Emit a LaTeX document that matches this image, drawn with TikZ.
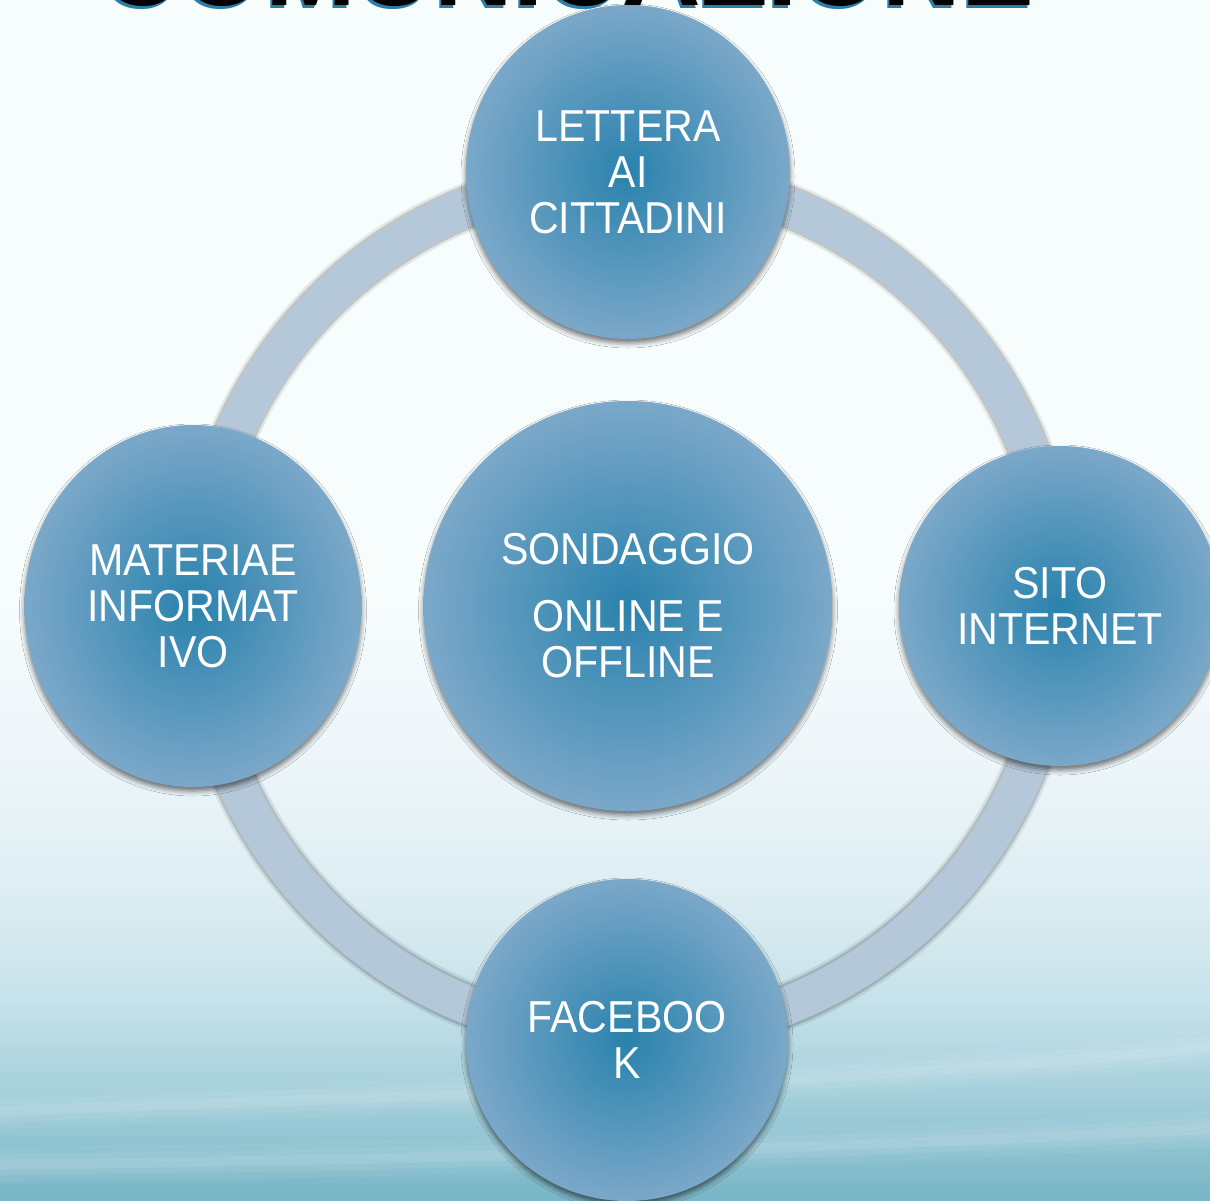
\documentclass[tikz,border=0pt]{standalone}
\usepackage{fontspec}
\setmainfont{Liberation Sans}
\newfontfamily\lblfont[FakeStretch=0.92]{Liberation Sans}
\usetikzlibrary{shapes.geometric,shadows.blur}
\definecolor{bgA}{HTML}{F7FCFD}
\definecolor{bgB}{HTML}{EEF6FA}
\definecolor{bgC}{HTML}{DCEDF2}
\definecolor{bgD}{HTML}{C6E2EA}
\definecolor{bgE}{HTML}{A2CEDA}
\definecolor{bgF}{HTML}{78B5C6}
\definecolor{bubIn}{HTML}{2A82AD}
\definecolor{bubOut}{HTML}{7BA8C9}
\definecolor{ringcol}{HTML}{B4C8D9}
\definecolor{titleblue}{HTML}{2A7FA6}
\pgfdeclareverticalshading{bgshade}{100bp}{color(0bp)=(bgF); color(25bp)=(bgF); color(29.17bp)=(bgE); color(33.33bp)=(bgD); color(37.5bp)=(bgC); color(43.75bp)=(bgB); color(50bp)=(bgA); color(75bp)=(bgA); color(100bp)=(bgA)}
\newcommand{\lblsize}{\lblfont\fontsize{44.7}{46}\selectfont}
\tikzset{
  bub/.style={ellipse, inner sep=0pt, shade, inner color=bubIn, outer color=bubOut,
    text=white, align=center, font=\lblsize,
    blur shadow={shadow xshift=0pt, shadow yshift=-4pt, shadow blur radius=5pt, shadow opacity=55}},
  wave/.style={draw=white, line cap=round},
  ringshadow/.style={draw=black}
}
\begin{document}
\begin{tikzpicture}[x=1pt,y=-1pt]
\useasboundingbox (0,0) rectangle (1210,1200);
\clip (0,0) rectangle (1210,1200);
% background
\shade[shading=bgshade] (0,0) rectangle (1210,1200);
% waves
\foreach \w/\o in {36/0.05,22/0.07,10/0.09}{
  \draw[wave, line width=\w, opacity=\o] (-20,1112) .. controls (400,1095) and (800,1090) .. (1230,1045);
  \draw[wave, line width=\w, opacity=\o] (-20,1165) .. controls (400,1160) and (800,1150) .. (1230,1128);
}
% title
\node[anchor=base, font=\fontsize{109}{109}\selectfont\bfseries, text=titleblue] (titleS) at (566,8) {COMUNICAZIONE};
\node[anchor=base, font=\fontsize{109}{109}\selectfont\bfseries, text=black] (title) at (568,5.5) {COMUNICAZIONE};
% ring
\coordinate (ringc) at (628,606);
\draw[ringshadow, line width=48, opacity=0.08] (ringc) circle (430);
\draw[ringshadow, line width=43, opacity=0.15] (ringc) circle (430);
\draw[draw=ringcol, line width=38] (ringc) circle (430);
% bubbles
\node[bub, minimum width=324, minimum height=334] (top) at (628,172) {LETTERA\\AI\\CITTADINI};
\node[bub, minimum width=337, minimum height=362] (left) at (193,606) {MATERIAE\\INFORMAT\\IVO};
\node[bub, minimum width=322, minimum height=320] (right) at (1060,606) {SITO\\INTERNET};
\node[bub, minimum width=322, minimum height=322] (bottom) at (627,1040) {FACEBOO\\K};
\node[bub, minimum width=409, minimum height=410] (center) at (628,606) {SONDAGGIO\\[21pt]ONLINE E\\OFFLINE};
\end{tikzpicture}
\end{document}
